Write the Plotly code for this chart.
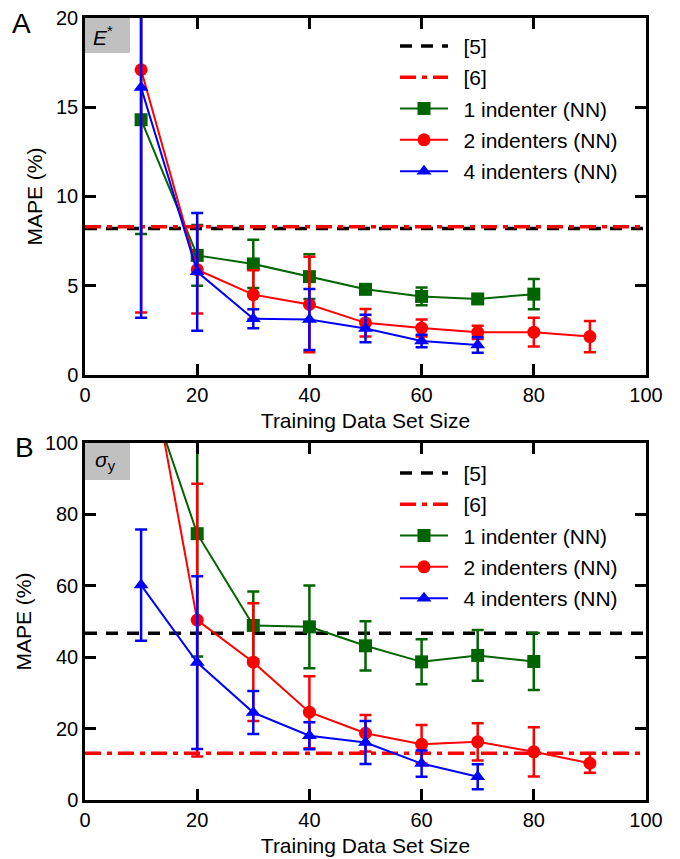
import plotly.graph_objects as go

# ---------------- data ----------------
x_vals = [10, 20, 30, 40, 50, 60, 70, 80, 90]

# Panel A : E*
a_one = [14.3, 6.7, 6.22, 5.51, 4.8, 4.4, 4.26, 4.53]
a_one_err = [6.4, 1.7, 1.35, 1.25, 0.12, 0.5, 0.18, 0.85]
a_two = [17.1, 5.9, 4.5, 3.95, 2.92, 2.63, 2.39, 2.4, 2.15]
a_two_err = [13.6, 2.45, 1.37, 2.68, 0.77, 0.48, 0.37, 0.8, 0.88]
a_four = [16.1, 5.78, 3.15, 3.11, 2.6, 1.9, 1.68]
a_four_err = [12.9, 3.3, 0.53, 1.71, 0.77, 0.35, 0.43]
a_ref5 = 8.2
a_ref6 = 8.3

# Panel B : sigma_y
b_one = [121, 74.6, 48.9, 48.5, 43.2, 38.7, 40.5, 38.8]
b_one_err = [20, 34.4, 9.5, 11.6, 6.9, 6.3, 7.1, 8.0]
b_two = [136, 50.4, 38.6, 24.6, 18.7, 15.6, 16.3, 13.5, 10.3]
b_two_err = [20, 38.2, 16.5, 10.1, 5.1, 5.4, 5.2, 6.9, 2.65]
b_four = [60.2, 38.5, 24.5, 18.0, 16.1, 10.2, 6.5]
b_four_err = [15.6, 24.2, 6.0, 3.8, 6.0, 3.7, 3.5]
b_ref5 = 46.7
b_ref6 = 13.1

x_range = [0, 100]
SP = "\u2002"
names = [SP + "[5]", SP + "[6]", SP + "1 indenter (NN)", SP + "2 indenters (NN)", SP + "4 indenters (NN)"]

GREEN = "#006400"
RED = "#ff0000"
BLUE = "#0000ff"
FONT = "Liberation Sans, Arial, sans-serif"

fig = go.Figure()


def add_panel(xa, ya, legend, ref5, ref6, one, one_err, two, two_err, four, four_err):
    fig.add_trace(go.Scatter(x=x_range, y=[ref5, ref5], mode="lines", name=names[0],
                             line=dict(color="black", width=3.5, dash="12px,9px"),
                             xaxis=xa, yaxis=ya, legend=legend, legendgroup=legend + "a"))
    fig.add_trace(go.Scatter(x=x_range, y=[ref6, ref6], mode="lines", name=names[1],
                             line=dict(color=RED, width=3.5, dash="16px,6px,5px,6px"),
                             xaxis=xa, yaxis=ya, legend=legend, legendgroup=legend + "b"))
    series = [
        (one, one_err, GREEN, "square", names[2], "c"),
        (two, two_err, RED, "circle", names[3], "d"),
        (four, four_err, BLUE, "triangle-up", names[4], "e"),
    ]
    for ys, es, col, sym, nm, g in series:
        fig.add_trace(go.Scatter(
            x=x_vals[:len(ys)], y=ys, mode="lines+markers", name=nm,
            line=dict(color=col, width=2),
            marker=dict(color=col, symbol=sym, size=13, line=dict(width=0)),
            error_y=dict(type="data", array=es, visible=True, color=col,
                         thickness=2.5, width=6),
            xaxis=xa, yaxis=ya, legend=legend, legendgroup=legend + g))


add_panel("x", "y", "legend", a_ref5, a_ref6, a_one, a_one_err, a_two, a_two_err, a_four, a_four_err)
add_panel("x2", "y2", "legend2", b_ref5, b_ref6, b_one, b_one_err, b_two, b_two_err, b_four, b_four_err)

axis_common = dict(showline=True, linewidth=2.5, linecolor="black", mirror="ticks",
                   ticks="inside", ticklen=11, tickwidth=2.5, tickcolor="black",
                   showgrid=False, zeroline=False, automargin=False,
                   ticklabeloverflow="allow",
                   tickfont=dict(family=FONT, size=20, color="black"))

xcommon = dict(axis_common, range=[0, 100], tick0=0, dtick=20,
               title=dict(text="Training Data Set Size",
                          font=dict(family=FONT, size=21, color="black"), standoff=9))

ytitle = dict(text="MAPE (%)", font=dict(family=FONT, size=21, color="black"), standoff=8)

legend_common = dict(font=dict(family=FONT, size=21, color="black"),
                     bgcolor="rgba(0,0,0,0)", tracegroupgap=1, itemwidth=48,
                     xanchor="left", yanchor="top")

fig.update_layout(
    width=680, height=859,
    margin=dict(l=77, r=42, t=10, b=67, autoexpand=False),
    plot_bgcolor="white", paper_bgcolor="white",
    font=dict(family=FONT, color="black"),
    xaxis=dict(xcommon, domain=[0, 1], anchor="y"),
    yaxis=dict(axis_common, domain=[0.5435, 1], range=[0, 20], tick0=0, dtick=5, anchor="x",
               title=ytitle),
    xaxis2=dict(xcommon, domain=[0, 1], anchor="y2"),
    yaxis2=dict(axis_common, domain=[0, 0.4565], range=[0, 100], tick0=0, dtick=20, anchor="x2",
                title=ytitle),
    legend=dict(legend_common, x=0.5526, y=0.990),
    legend2=dict(legend_common, x=0.5526, y=0.444),
    showlegend=True,
    shapes=[
        dict(type="rect", xref="paper", yref="paper", x0=0, x1=0.0802, y0=0.9552, y1=1,
             fillcolor="#c0c0c0", line=dict(width=0), layer="below"),
        dict(type="rect", xref="paper", yref="paper", x0=0, x1=0.0802, y0=0.4092, y1=0.4565,
             fillcolor="#c0c0c0", line=dict(width=0), layer="below"),
    ],
    annotations=[
        dict(text="A", x=-0.1123, y=0.9936, xref="paper", yref="paper", showarrow=False,
             font=dict(family=FONT, size=28, color="black"), xanchor="center", yanchor="middle"),
        dict(text="B", x=-0.1087, y=0.4514, xref="paper", yref="paper", showarrow=False,
             font=dict(family=FONT, size=28, color="black"), xanchor="center", yanchor="middle"),
        dict(text="<i>E</i><sup>*</sup>", x=0.032, y=0.977, xref="paper", yref="paper",
             showarrow=False, font=dict(family=FONT, size=21, color="black"),
             xanchor="center", yanchor="middle"),
        dict(text="<i>σ</i><sub>y</sub>", x=0.037, y=0.4335, xref="paper", yref="paper",
             showarrow=False, font=dict(family=FONT, size=21, color="black"),
             xanchor="center", yanchor="middle"),
    ],
)

fig.write_html("out.html")
